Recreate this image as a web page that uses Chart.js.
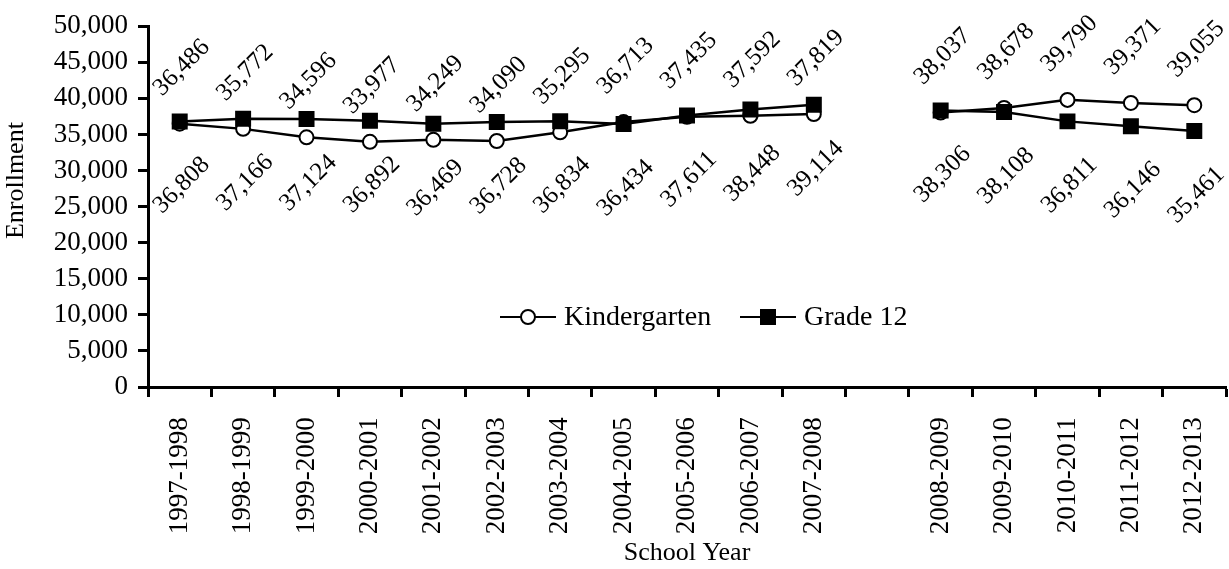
<!DOCTYPE html>
<html>
<head>
<meta charset="utf-8">
<script src="https://cdn.jsdelivr.net/npm/chart.js@4/dist/chart.umd.min.js"></script>
<style>
  html, body { margin: 0; padding: 0; background: #fff; }
  #wrap { width: 1229px; height: 569px; position: relative; }
</style>
</head>
<body>
<div id="wrap"><canvas id="enrollChart"></canvas></div>
<script>
// school years (the blank one is the break between the two groups)
const schoolYears = [
  '1997-1998', '1998-1999', '1999-2000', '2000-2001', '2001-2002', '2002-2003',
  '2003-2004', '2004-2005', '2005-2006', '2006-2007', '2007-2008', '',
  '2008-2009', '2009-2010', '2010-2011', '2011-2012', '2012-2013'
];
const kindergarten = [36486, 35772, 34596, 33977, 34249, 34090, 35295, 36713, 37435, 37592, 37819, null,
  38037, 38678, 39790, 39371, 39055];
const grade12 = [36808, 37166, 37124, 36892, 36469, 36728, 36834, 36434, 37611, 38448, 39114, null,
  38306, 38108, 36811, 36146, 35461];
const seriesNames = ['Kindergarten', 'Grade 12'];

const serif = "'Liberation Serif', 'Times New Roman', serif";

// rotated value labels: kindergarten above its point, grade 12 below
const valueLabels = {
  id: 'valueLabels',
  afterDatasetsDraw(chart) {
    const ctx = chart.ctx;
    ctx.save();
    ctx.font = '25px ' + serif;
    ctx.fillStyle = '#000';
    ctx.textAlign = 'center';
    ctx.textBaseline = 'middle';
    chart.data.datasets.forEach((ds, i) => {
      const meta = chart.getDatasetMeta(i);
      const dy = i === 0 ? -56 : 64;
      meta.data.forEach((pt, j) => {
        const v = ds.data[j];
        if (v == null) return;
        ctx.save();
        ctx.translate(pt.x + 2, pt.y + dy);
        ctx.rotate(-Math.PI / 4);
        ctx.fillText(v.toLocaleString('en-US'), 0, 0);
        ctx.restore();
      });
    });
    ctx.restore();
  }
};

// legend inside the plot: line with marker in the middle, then the name
const innerLegend = {
  id: 'innerLegend',
  afterDraw(chart) {
    const ctx = chart.ctx;
    const y = 317;
    const items = [
      { x: 500, style: 'circle' },
      { x: 740, style: 'rect' }
    ];
    ctx.save();
    items.forEach((it, i) => {
      ctx.strokeStyle = '#000';
      ctx.lineWidth = 2;
      ctx.beginPath();
      ctx.moveTo(it.x, y);
      ctx.lineTo(it.x + 56, y);
      ctx.stroke();
      const cx = it.x + 28;
      if (it.style === 'circle') {
        ctx.beginPath();
        ctx.arc(cx, y, 7, 0, Math.PI * 2);
        ctx.fillStyle = '#fff';
        ctx.fill();
        ctx.stroke();
      } else {
        ctx.fillStyle = '#000';
        ctx.fillRect(cx - 8, y - 8, 16, 16);
      }
      ctx.fillStyle = '#000';
      ctx.font = '28px ' + serif;
      ctx.textAlign = 'left';
      ctx.textBaseline = 'middle';
      ctx.fillText(seriesNames[i], it.x + 64, y + 1);
    });
    ctx.restore();
  }
};

new Chart(document.getElementById('enrollChart'), {
  type: 'line',
  data: {
    labels: schoolYears,
    datasets: [
      {
        label: seriesNames[0],
        data: kindergarten,
        order: 1,
        borderColor: '#000',
        borderWidth: 2.5,
        pointStyle: 'circle',
        pointRadius: 7,
        pointBorderWidth: 2,
        pointBackgroundColor: '#fff',
        pointBorderColor: '#000',
        spanGaps: false,
        tension: 0
      },
      {
        label: seriesNames[1],
        data: grade12,
        order: 0,
        borderColor: '#000',
        borderWidth: 2.5,
        pointStyle: 'rect',
        pointRadius: 11.3,
        pointBorderWidth: 0,
        pointBackgroundColor: '#000',
        pointBorderColor: '#000',
        spanGaps: false,
        tension: 0
      }
    ]
  },
  options: {
    responsive: true,
    maintainAspectRatio: false,
    animation: false,
    layout: { autoPadding: false, padding: { top: 17, right: 3, left: 0, bottom: 0 } },
    plugins: {
      legend: { display: false },
      tooltip: { enabled: false }
    },
    scales: {
      x: {
        offset: true,
        grid: {
          offset: true,
          drawOnChartArea: false,
          drawTicks: true,
          tickLength: 10,
          tickWidth: 3,
          tickColor: '#000'
        },
        border: { display: true, color: '#000', width: 3 },
        ticks: {
          autoSkip: false,
          minRotation: 90,
          maxRotation: 90,
          padding: 0,
          color: '#000',
          font: { family: serif, size: 27 },
          // trailing spaces keep the rotated labels clear of the tick marks
          callback(v) { return this.getLabelForValue(v) + '   '; }
        },
        title: {
          display: true,
          text: 'School Year',
          color: '#000',
          padding: { top: 0, bottom: 0 },
          font: { family: serif, size: 26 }
        },
        afterFit(s) {
          s.height = 182;
        }
      },
      y: {
        min: 0,
        max: 50000,
        grid: {
          drawOnChartArea: false,
          drawTicks: true,
          tickLength: 10,
          tickWidth: 3,
          tickColor: '#000'
        },
        border: { display: true, color: '#000', width: 3 },
        ticks: {
          stepSize: 5000,
          padding: 10,
          color: '#000',
          font: { family: serif, size: 27 },
          callback: (v) => v.toLocaleString('en-US')
        },
        title: {
          display: true,
          text: '        Enrollment',
          color: '#000',
          padding: { top: 1, bottom: 0 },
          font: { family: serif, size: 26 }
        },
        afterFit(s) { s.width = 148; }
      }
    }
  },
  plugins: [valueLabels, innerLegend]
});
</script>
</body>
</html>
